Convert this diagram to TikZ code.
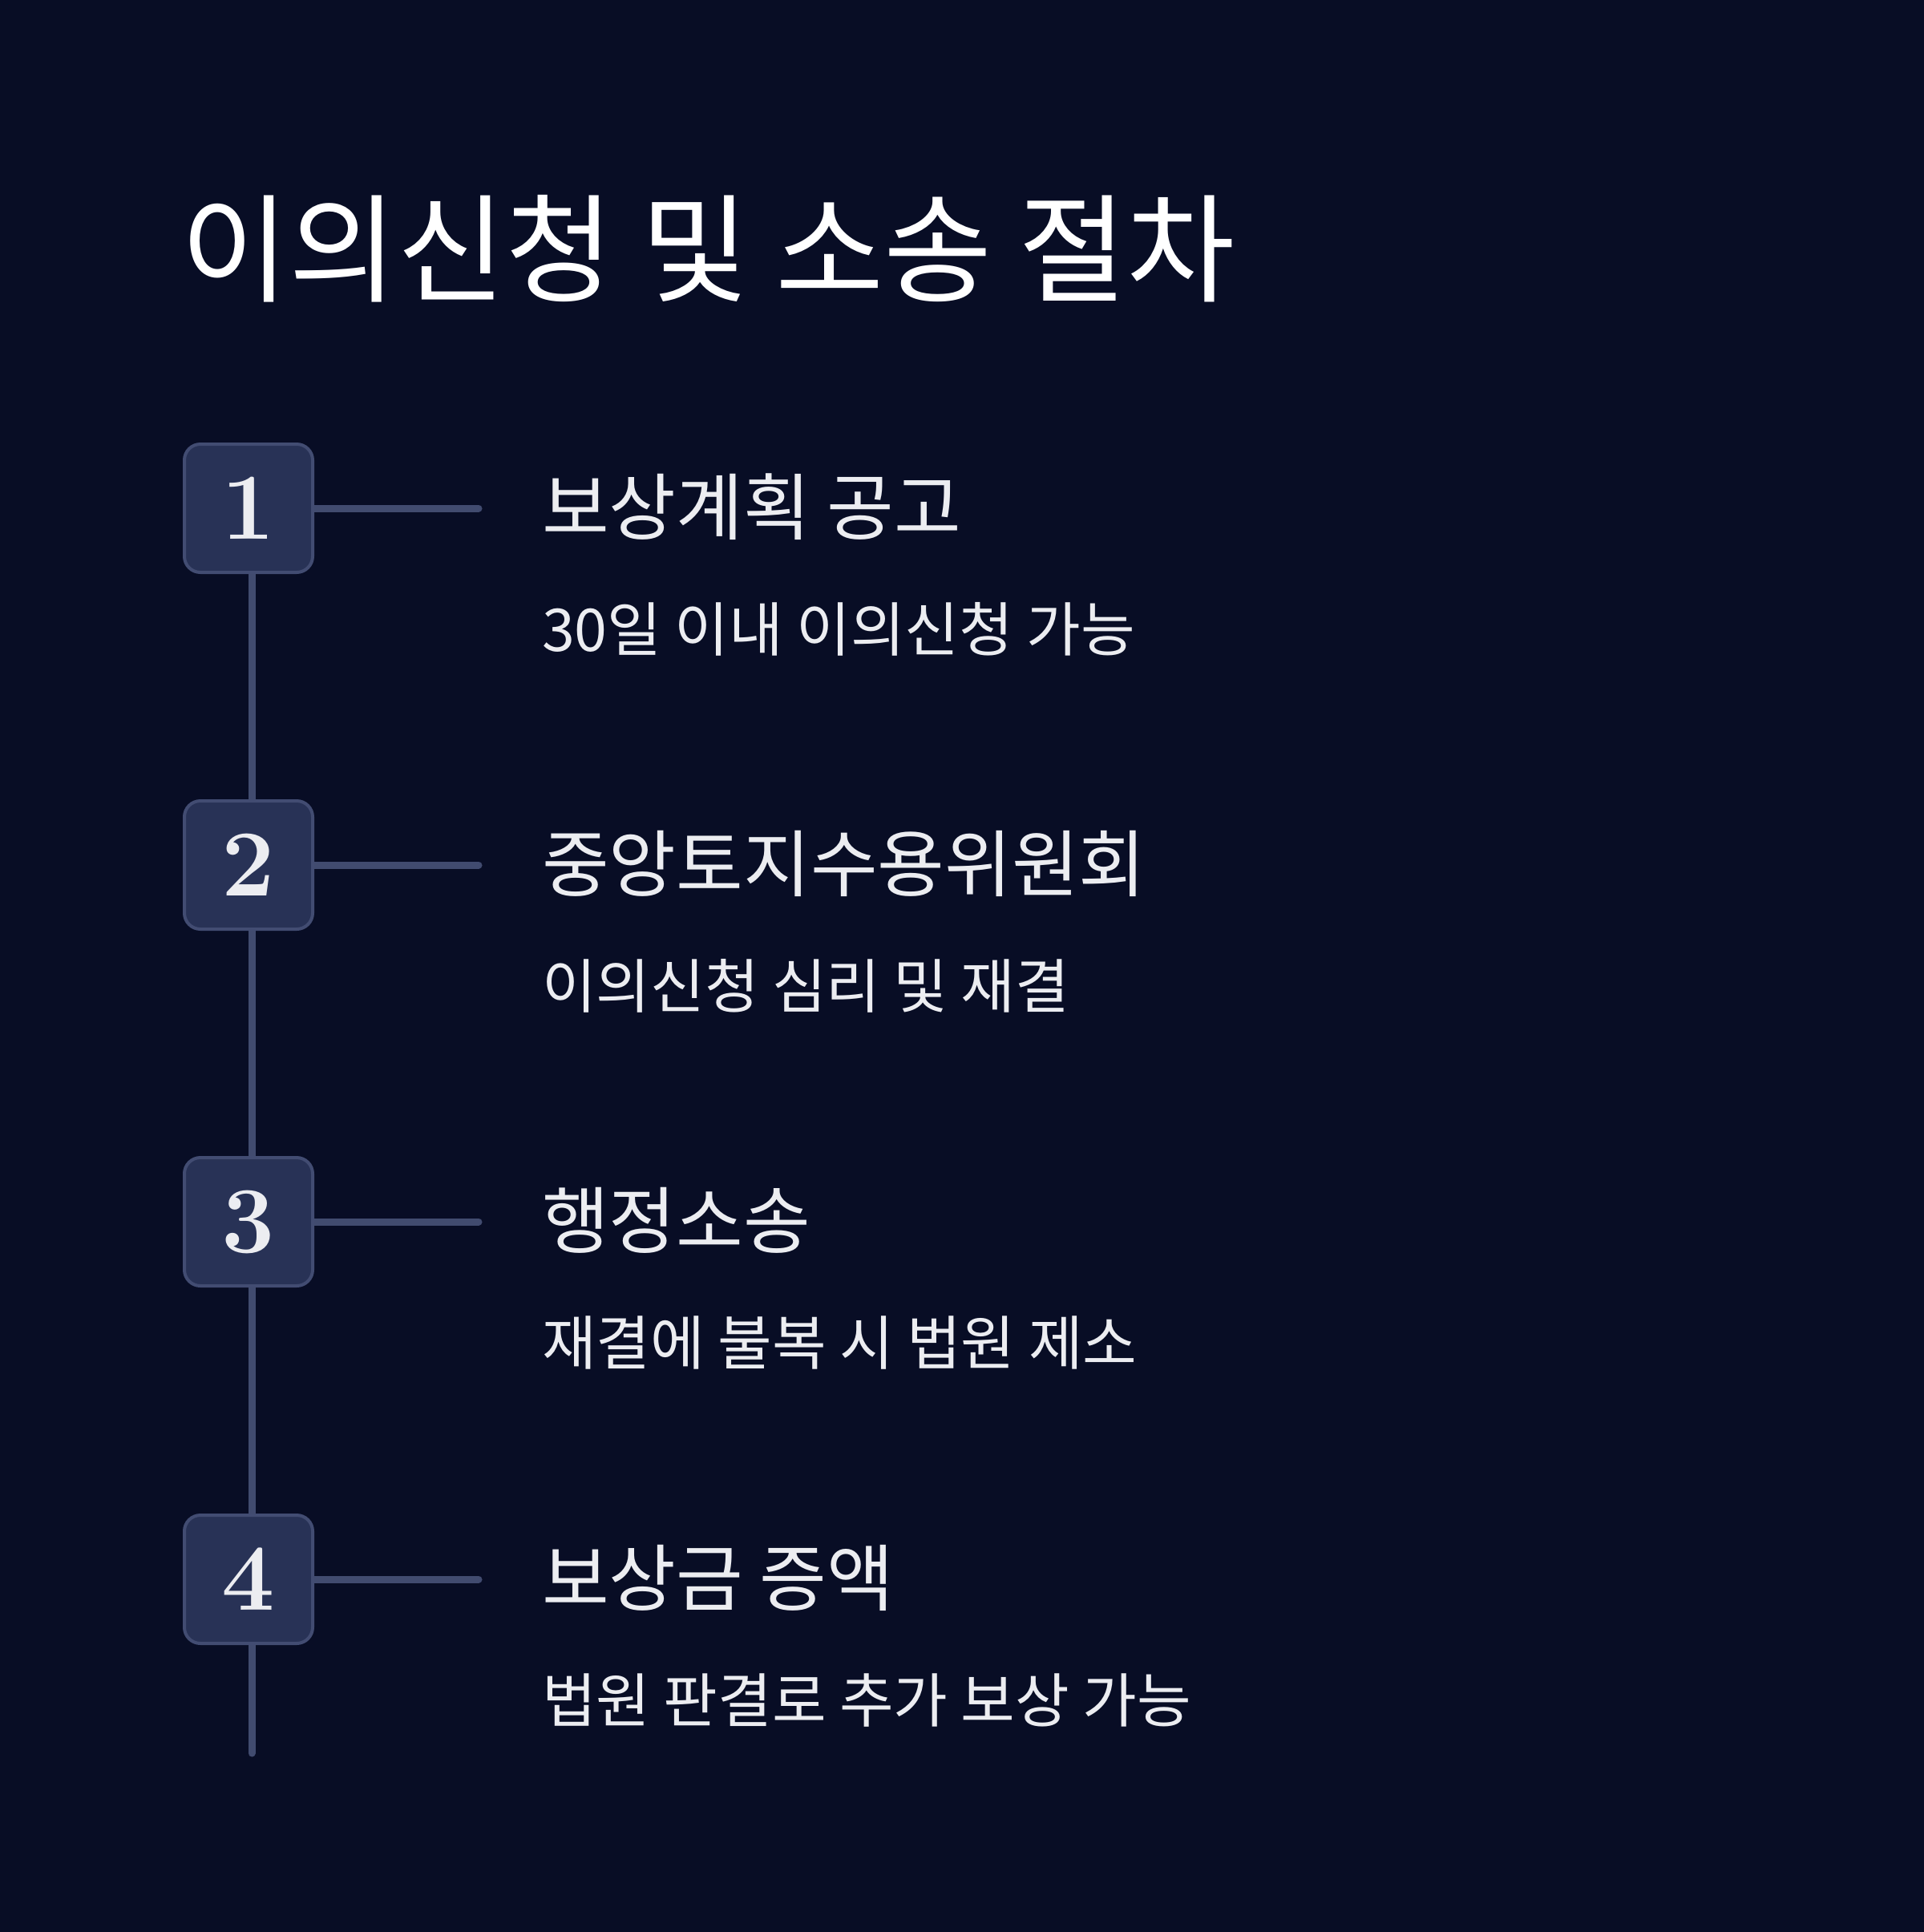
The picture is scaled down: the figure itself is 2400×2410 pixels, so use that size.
\documentclass[tikz,border=0pt]{standalone}
\usepackage{fontspec}
\newfontfamily\kr{Noto Sans CJK KR}
\newfontfamily\numfont{Latin Modern Roman}
\definecolor{bg}{HTML}{080D25}
\definecolor{boxfill}{HTML}{283256}
\definecolor{boxline}{HTML}{424C72}
\definecolor{linec}{HTML}{414B6F}
\definecolor{txt}{HTML}{ECEDF1}
\tikzset{
  numbox/.style={draw=boxline, line width=4pt, fill=boxfill, rounded corners=20pt,
    minimum width=160pt, minimum height=160pt, inner sep=0pt, text=txt,
    font=\numfont\bfseries\fontsize{118}{118}\selectfont},
  heading/.style={anchor=west, inner sep=0pt, text=txt, font=\kr\fontsize{91}{91}\selectfont},
  sub/.style={anchor=west, inner sep=0pt, text=txt, font=\kr\fontsize{73.5}{73.5}\selectfont},
  conn/.style={draw=linec, line width=9pt, line cap=round},
}
\begin{document}
\begin{tikzpicture}[x=1pt,y=-1pt]
\fill[bg] (0,0) rectangle (2400,2410);
\useasboundingbox (0,0) rectangle (2400,2410);
\node[anchor=west, inner sep=0pt, text=white, font=\kr\fontsize{147}{147}\selectfont] (title) at (225,310) {이의신청 및 소송 절차};
% spine
\coordinate (top) at (314,634);
\coordinate (bot) at (314,2187);
\draw[conn] (top) -- (bot);
\foreach \i/\y/\h/\s in {1/634/보상계획 공고/30일 이내 이의신청 가능,
                         2/1079/중앙토지수용위원회/이의신청 심리 및 재결,
                         3/1524/행정소송/재결에 불복 시 법원 제소,
                         4/1970/보상금 증액/법원 판결로 추가 보상 가능}{
  \coordinate (e\i) at (597,\y);
  \draw[conn] (310,\y) -- (e\i);
  \node[numbox] (n\i) at (310,\y) {\i};
  \node[heading] (h\i) at (676,\y-2) {\h};
  \node[sub] (s\i) at (676,\y+151) {\s};
}
\end{tikzpicture}
\end{document}
